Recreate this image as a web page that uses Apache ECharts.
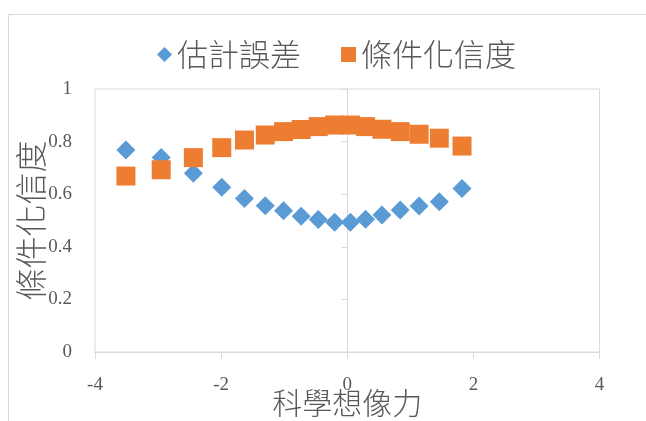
<!DOCTYPE html>
<html>
<head>
<meta charset="utf-8">
<script src="https://cdn.jsdelivr.net/npm/echarts@6/dist/echarts.min.js"></script>
<style>
  html, body { margin: 0; padding: 0; background: #ffffff; }
  #chart { width: 646px; height: 421px; }
</style>
</head>
<body>
<div id="chart"></div>
<script>
// Scientific imagination score (x) against estimate error and conditional reliability
const imagination = [-3.51, -2.95, -2.44, -1.99, -1.63, -1.30, -1.01, -0.73, -0.46, -0.20, 0.05, 0.29, 0.55, 0.84, 1.14, 1.46, 1.82];
const estimateError = [0.768, 0.74, 0.68, 0.626, 0.584, 0.556, 0.537, 0.516, 0.504, 0.493, 0.493, 0.505, 0.521, 0.540, 0.555, 0.571, 0.622];
const conditionalReliability = [0.669, 0.693, 0.739, 0.777, 0.806, 0.825, 0.838, 0.846, 0.857, 0.863, 0.863, 0.857, 0.847, 0.838, 0.828, 0.813, 0.783];
const seriesNames = ['估計誤差', '條件化信度'];
const xAxisName = '科學想像力';
const yAxisName = '條件化信度';

const cjkFont = '"Noto Sans CJK TC", "Noto Sans CJK SC", sans-serif';
const numFont = '"Liberation Serif", "DejaVu Serif", serif';
const textGray = '#595959';
const lineGray = '#d9d9d9';

const pairs = (xs, ys) => xs.map((x, i) => [x, ys[i]]);

const chart = echarts.init(document.getElementById('chart'));
chart.setOption({
  animation: false,
  backgroundColor: '#ffffff',
  graphic: [{
    type: 'rect',
    shape: { x: 8.5, y: 14.5, width: 700, height: 500 },
    style: { fill: 'none', stroke: lineGray, lineWidth: 1 },
    silent: true,
    z: -1
  }],
  legend: {
    left: 152,
    top: 34,
    itemWidth: 15,
    itemHeight: 15,
    itemGap: 40,
    textStyle: { fontFamily: cjkFont, fontSize: 31, color: textGray, fontWeight: 300 },
    data: [
      { name: seriesNames[0], icon: 'diamond' },
      { name: seriesNames[1], icon: 'rect' }
    ]
  },
  grid: {
    left: 95,
    top: 89,
    width: 504.5,
    height: 263,
    outerBoundsMode: 'none',
    containLabel: false,
    show: true,
    borderColor: lineGray,
    borderWidth: 1
  },
  xAxis: {
    type: 'value',
    min: -4,
    max: 4,
    interval: 2,
    axisLine: { show: true, lineStyle: { color: lineGray } },
    axisTick: { show: true, length: 7, lineStyle: { color: lineGray } },
    splitLine: { show: false },
    axisLabel: { fontFamily: numFont, fontSize: 19, color: textGray, margin: 24 },
    name: xAxisName,
    nameLocation: 'middle',
    nameGap: 36,
    nameMoveOverlap: false,
    nameTextStyle: { fontFamily: cjkFont, fontSize: 30, color: textGray, fontWeight: 300 }
  },
  yAxis: [{
    type: 'value',
    min: 0,
    max: 1,
    interval: 0.2,
    axisLine: { show: false, onZero: false },
    axisTick: { show: false },
    splitLine: { show: false },
    axisLabel: { fontFamily: numFont, fontSize: 19, color: textGray, margin: 23 },
    name: yAxisName,
    nameLocation: 'middle',
    nameRotate: 90,
    nameGap: 48,
    nameMoveOverlap: false,
    nameTextStyle: { fontFamily: cjkFont, fontSize: 32, color: textGray, fontWeight: 300 }
  }, {
    // vertical axis line through x = 0 with its tick marks
    type: 'value',
    min: 0,
    max: 1,
    interval: 0.2,
    position: 'left',
    axisLine: { show: true, onZero: true, lineStyle: { color: lineGray } },
    axisTick: { show: true, length: 6, lineStyle: { color: lineGray } },
    axisLabel: { show: false },
    splitLine: { show: false }
  }],
  series: [{
    name: seriesNames[0],
    type: 'scatter',
    yAxisIndex: 0,
    symbol: 'diamond',
    symbolSize: 19,
    itemStyle: { color: '#5b9bd5', opacity: 1 },
    data: pairs(imagination, estimateError)
  }, {
    name: seriesNames[1],
    type: 'scatter',
    yAxisIndex: 0,
    symbol: 'rect',
    symbolSize: 19,
    itemStyle: { color: '#ed7d31', opacity: 1 },
    data: pairs(imagination, conditionalReliability)
  }]
});
</script>
</body>
</html>
